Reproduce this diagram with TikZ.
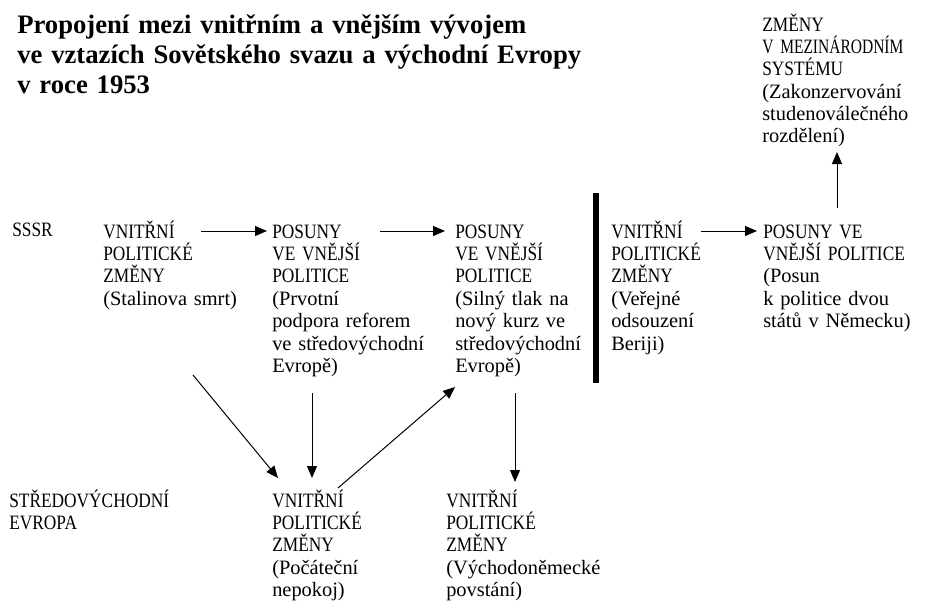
\documentclass[tikz,border=0pt]{standalone}
\usepackage{fontspec}
\setmainfont{Liberation Serif}
\newfontfamily\capsfont[FakeStretch=0.85]{Liberation Serif}
\newfontfamily\tightcaps[FakeStretch=0.76]{Liberation Serif}
\usetikzlibrary{calc,arrows.meta}
\tikzstyle{line} = [line width=0.75pt]
\tikzstyle{line>} = [line,-{Triangle[length=9pt, width=7.5pt]}]
\tikzstyle{divider} = [line width=3.8pt]
\tikzstyle{cell} = [anchor=base west,inner sep=0pt,align=left,text width=6cm,font=\fontsize{15.3}{16.8}\selectfont]
\tikzstyle{heading} = [cell,text width=20cm,font=\fontsize{20}{22.5}\selectfont\bfseries]

\begin{document}
\begin{tikzpicture}[x=0.75pt,y=-0.75pt]
        \useasboundingbox (0,0) rectangle (926,607);
        % title
        \node[heading] (title) at (17,33) {Propojení mezi vnitřním a vnějším vývojem\\ve vztazích Sovětského svazu a východní Evropy\\v roce 1953};
        % international system
        \node[cell] (intl) at (762,31) {{\capsfont ZMĚNY}\\{\tightcaps V MEZINÁRODNÍM}\\{\capsfont SYSTÉMU}\\(Zakonzervování\\studenoválečného\\rozdělení)};

        % row labels
        \node[cell] (sssr) at (12,236) {\capsfont SSSR};
        \node[cell] (cee) at (9,507) {\capsfont STŘEDOVÝCHODNÍ\\EVROPA};

        % soviet row
        \node[cell] (svDom) at (103,238) {{\capsfont VNITŘNÍ\\POLITICKÉ\\ZMĚNY}\\(Stalinova smrt)};
        \node[cell] (svFor1) at (272,238) {{\capsfont POSUNY\\VE VNĚJŠÍ\\POLITICE}\\(Prvotní\\podpora reforem\\ve středovýchodní\\Evropě)};
        \node[cell] (svFor2) at (455,238) {{\capsfont POSUNY\\VE VNĚJŠÍ\\POLITICE}\\(Silný tlak na\\nový kurz ve\\středovýchodní\\Evropě)};
        \node[cell] (svDom2) at (611,238) {{\capsfont VNITŘNÍ\\POLITICKÉ\\ZMĚNY}\\(Veřejné\\odsouzení\\Beriji)};
        \node[cell] (svFor3) at (763,238) {{\capsfont POSUNY VE\\VNĚJŠÍ POLITICE}\\(Posun\\k politice dvou\\států v Německu)};

        % central-eastern europe row
        \node[cell] (ceDom1) at (272,507) {{\capsfont VNITŘNÍ\\POLITICKÉ\\ZMĚNY}\\(Počáteční\\nepokoj)};
        \node[cell] (ceDom2) at (446,507) {{\capsfont VNITŘNÍ\\POLITICKÉ\\ZMĚNY}\\(Východoněmecké\\povstání)};

        % divider
        \draw[divider] (596,193) -- (596,383);

        % arrows in soviet row
        \draw[line>] ($(svDom.base west)+(98,-7)$) -- ($(svFor1.base west)+(-5,-7)$);
        \draw[line>] ($(svFor1.base west)+(108,-7)$) -- ($(svFor2.base west)+(-10,-7)$);
        \draw[line>] ($(svDom2.base west)+(90,-7)$) -- ($(svFor3.base west)+(-6,-7)$);
        \draw[line>] ($(svFor3.base west)+(74,-30)$) -- ($(intl.base west)+(75,121)$);
        % arrows between rows
        \draw[line>] ($(svDom.base west)+(90,137)$) -- ($(ceDom1.base west)+(6,-29)$);
        \draw[line>] ($(svFor1.base west)+(40,155)$) -- ($(ceDom1.base west)+(40,-29)$);
        \draw[line>] ($(ceDom1.base west)+(66,-19)$) -- ($(svFor2.base west)+(0,149)$);
        \draw[line>] ($(svFor2.base west)+(60,155)$) -- ($(ceDom2.base west)+(69,-25)$);
\end{tikzpicture}
\end{document}
